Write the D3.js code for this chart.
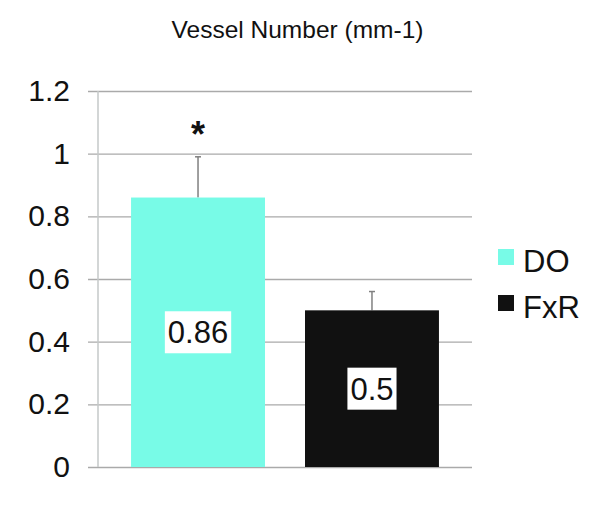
<!DOCTYPE html>
<html>
<head>
<meta charset="utf-8">
<script src="https://cdn.jsdelivr.net/npm/d3@7/dist/d3.min.js"></script>
<style>
  body { margin: 0; background: #fff; }
  svg { font-family: "Liberation Sans", Arial, sans-serif; }
</style>
</head>
<body>
<svg id="chart" width="600" height="514"></svg>
<script>
var groups = ['DO', 'FxR'];
var values = [0.86, 0.5];
var errors = [0.13, 0.06];
var colors = ['#78fbe7', '#111111'];
var ticks = [0, 0.2, 0.4, 0.6, 0.8, 1, 1.2];

var svg = d3.select('#chart');
var margin = {left: 98, right: 128, top: 91, bottom: 47};
var width = 600 - margin.left - margin.right,
    height = 514 - margin.top - margin.bottom;

var y = d3.scaleLinear().domain([0, 1.2]).range([height, 0]);
var x = d3.scaleBand().domain(groups).range([0, width]).paddingInner(0.23).paddingOuter(0.19);

var g = svg.append('g').attr('transform', 'translate(' + margin.left + ',' + margin.top + ')');

// title
svg.append('text')
    .attr('x', 297.5).attr('y', 38)
    .attr('text-anchor', 'middle')
    .attr('font-size', 24.5)
    .attr('fill', '#111')
    .text('Vessel Number (mm-1)');

// grid + ticks
var yAxis = d3.axisLeft(y).tickValues(ticks).tickSize(-width - 10).tickFormat(d3.format('~g')).tickPadding(18);
var ax = g.append('g').attr('transform', 'translate(-10,0)').call(yAxis);
ax.select('.domain').remove();
ax.selectAll('.tick line').attr('stroke', '#aaaaaa').attr('stroke-width', 1.3);
ax.selectAll('.tick text').attr('font-size', 30).attr('fill', '#111').attr('x', -18);

// vertical axis line
g.append('line')
    .attr('x1', 0).attr('x2', 0)
    .attr('y1', y(1.2)).attr('y2', y(0))
    .attr('stroke', '#c4c8c8').attr('stroke-width', 1.5);

// error bars
var eb = g.selectAll('.err').data(groups).enter().append('g');
eb.append('line')
    .attr('x1', function (d) { return x(d) + x.bandwidth() / 2; })
    .attr('x2', function (d) { return x(d) + x.bandwidth() / 2; })
    .attr('y1', function (d, i) { return y(values[i]); })
    .attr('y2', function (d, i) { return y(values[i] + errors[i]); })
    .attr('stroke', '#808080').attr('stroke-width', 1.5);
eb.append('line')
    .attr('x1', function (d) { return x(d) + x.bandwidth() / 2 - 3; })
    .attr('x2', function (d) { return x(d) + x.bandwidth() / 2 + 3; })
    .attr('y1', function (d, i) { return y(values[i] + errors[i]); })
    .attr('y2', function (d, i) { return y(values[i] + errors[i]); })
    .attr('stroke', '#808080').attr('stroke-width', 1.5);

// bars
g.selectAll('.bar').data(groups).enter().append('rect')
    .attr('x', function (d) { return x(d); })
    .attr('width', x.bandwidth())
    .attr('y', function (d, i) { return y(values[i]); })
    .attr('height', function (d, i) { return y(0) - y(values[i]); })
    .attr('fill', function (d, i) { return colors[i]; });

// value labels
var lab = g.selectAll('.lab').data(groups).enter().append('g')
    .attr('transform', function (d, i) {
        return 'translate(' + (x(d) + x.bandwidth() / 2) + ',' + y(values[i] / 2) + ')';
    });
lab.append('text')
    .attr('text-anchor', 'middle')
    .attr('dy', '0.36em')
    .attr('font-size', 31)
    .attr('fill', '#111')
    .text(function (d, i) { return values[i]; })
    .each(function () {
        var b = this.getBBox();
        d3.select(this.parentNode).insert('rect', 'text')
            .attr('x', b.x - 3).attr('y', -21)
            .attr('width', b.width + 6).attr('height', 42)
            .attr('fill', '#fff');
    });

// significance star
g.append('text')
    .attr('x', x('DO') + x.bandwidth() / 2)
    .attr('y', y(values[0] + errors[0]) - 10)
    .attr('text-anchor', 'middle')
    .attr('font-size', 36)
    .attr('font-weight', 'bold')
    .attr('fill', '#111')
    .text('*');

// legend
var leg = svg.append('g').attr('transform', 'translate(498,249)');
groups.forEach(function (d, i) {
    var r = leg.append('g').attr('transform', 'translate(0,' + i * 46 + ')');
    r.append('rect').attr('width', 16).attr('height', 16).attr('fill', colors[i]);
    r.append('text').attr('x', 25).attr('y', 23)
        .attr('font-size', 31).attr('fill', '#111').text(d);
});
</script>
</body>
</html>
